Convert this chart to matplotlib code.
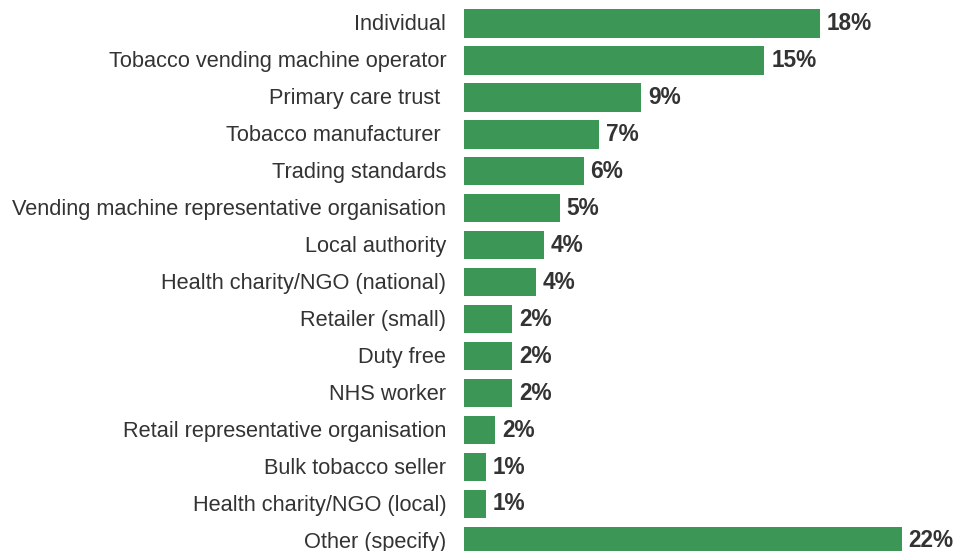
import matplotlib.pyplot as plt
import matplotlib.transforms as mtransforms

categories = [
    "Individual",
    "Tobacco vending machine operator",
    "Primary care trust ",
    "Tobacco manufacturer ",
    "Trading standards",
    "Vending machine representative organisation",
    "Local authority",
    "Health charity/NGO (national)",
    "Retailer (small)",
    "Duty free",
    "NHS worker",
    "Retail representative organisation",
    "Bulk tobacco seller",
    "Health charity/NGO (local)",
    "Other (specify)",
]
shares = [17.9, 15.1, 8.9, 6.8, 6.0, 4.8, 4.0, 3.6, 2.4, 2.4, 2.4, 1.55, 1.1, 1.1, 22.0]

bar_colour = "#3C9757"
text_colour = "#333333"

plt.rcParams["font.family"] = ["Liberation Sans", "DejaVu Sans"]

fig = plt.figure(figsize=(9.55, 5.51), dpi=100)
W, H = 955, 551
left = 464.3
pitch = 36.96
first_centre = 23.5
ax = fig.add_axes([left / W, 0, (W - left) / W, 1])

pos = list(range(len(categories)))
ax.barh(pos, shares, height=0.766, color=bar_colour)

# keep a fixed pixel scale so the bars line up with their labels
px_per_unit = 19.88
ax.set_xlim(0, (W - left) / px_per_unit)
ax.set_ylim((H - first_centre) / pitch, -first_centre / pitch)

ax.set_yticks(pos)
ax.set_yticklabels(categories, fontsize=15.7, color=text_colour)
ax.tick_params(axis="y", length=0, pad=13)
lift = mtransforms.ScaledTranslation(0, 1.2 / 100, fig.dpi_scale_trans)
for lbl in ax.get_yticklabels():
    lbl.set_transform(lbl.get_transform() + lift)
ax.set_xticks([])
for s in ax.spines.values():
    s.set_visible(False)

for y, v in zip(pos, shares):
    ax.annotate(f"{v:.0f}%", (v, y), xytext=(5, 0), textcoords="offset points",
                va="center", ha="left", fontsize=16.3, fontweight="bold",
                color=text_colour)

fig.savefig("out.png", dpi=100)
